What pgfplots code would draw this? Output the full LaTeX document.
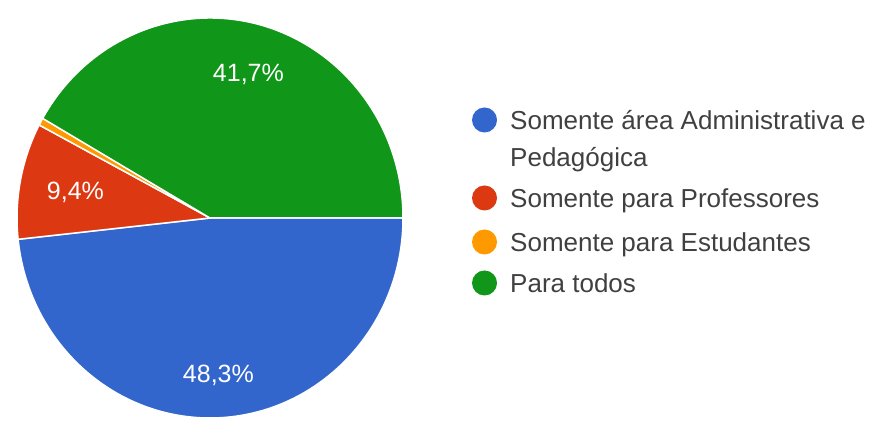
\documentclass[border=0pt]{standalone}
\usepackage{pgfplots}
\usepackage{pgfplotstable}
\pgfplotsset{compat=1.18}
\usetikzlibrary{calc}
\usepackage{fontspec}
\setmainfont{Liberation Sans}

\definecolor{gblue}{HTML}{3366CC}
\definecolor{gred}{HTML}{DC3912}
\definecolor{gorange}{HTML}{FF9900}
\definecolor{ggreen}{HTML}{109618}

% slices clockwise from 3 o'clock; lr = label radius, ly = legend baseline
\pgfplotstableread[col sep=comma]{
name,name2,value,color,lr,ly
Somente área Administrativa e,Pedagógica,48.3,gblue,158,298
Somente para Professores,,9.4,gred,137,220
Somente para Estudantes,,0.6,gorange,0,176
Para todos,,41.7,ggreen,149,135
}\piedata

\begin{document}
\begin{tikzpicture}
\begin{axis}[
    x=1pt, y=1pt,
    xmin=0, xmax=875,
    ymin=0, ymax=428,
    hide axis,
    clip=false
]
\pgfplotsextra{
  \pgfplotstablegetrowsof{\piedata}
  \pgfmathtruncatemacro\lastrow{\pgfplotsretval-1}
  \gdef\startang{0}
  \foreach \i in {0,...,\lastrow}{
    \pgfplotstablegetelem{\i}{value}\of\piedata \let\val\pgfplotsretval
    \pgfplotstablegetelem{\i}{color}\of\piedata \let\col\pgfplotsretval
    \pgfplotstablegetelem{\i}{lr}\of\piedata \let\lr\pgfplotsretval
    \pgfmathsetmacro\endang{\startang-3.6*\val}
    \pgfmathsetmacro\midang{(\startang+\endang)/2}
    \fill[\col, draw=white, line width=1.5pt, line join=round]
      (axis cs:210,210) -- +(\startang:193pt and 200pt)
      arc[start angle=\startang, end angle=\endang, x radius=193pt, y radius=200pt]
      -- cycle;
    \ifdim\lr pt>0pt
      \node[text=white, font=\fontsize{25}{30}\selectfont, inner sep=0]
        at ($(axis cs:210,210)+(\midang:\lr pt)$)
        {\pgfmathprintnumber[fixed, fixed zerofill, precision=1, use comma, assume math mode=true]{\val}\%};
    \fi
    \xdef\startang{\endang}
  }
  % legend
  \foreach \i in {0,...,\lastrow}{
    \pgfplotstablegetelem{\i}{name}\of\piedata \let\nm\pgfplotsretval
    \pgfplotstablegetelem{\i}{name2}\of\piedata \let\nmb\pgfplotsretval
    \pgfplotstablegetelem{\i}{color}\of\piedata \let\col\pgfplotsretval
    \pgfplotstablegetelem{\i}{ly}\of\piedata \let\ly\pgfplotsretval
    \fill[\col] (axis cs:484.5,\ly+10) circle[radius=12.5pt];
    \node[anchor=base west, inner sep=0, text=black!75, font=\fontsize{26}{30}\selectfont]
      at (axis cs:510,\ly) {\nm};
    \node[anchor=base west, inner sep=0, text=black!75, font=\fontsize{26}{30}\selectfont]
      at (axis cs:510,\ly-37) {\nmb};
  }
}
\end{axis}
\pgfresetboundingbox
\path[use as bounding box] (current axis.south west) rectangle (current axis.north east);
\end{tikzpicture}
\end{document}
